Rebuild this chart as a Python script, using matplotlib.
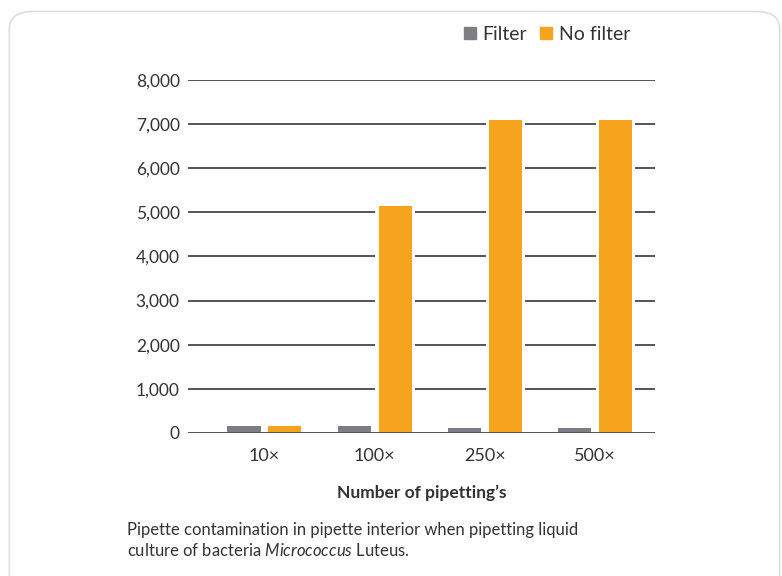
import matplotlib
matplotlib.use("Agg")
import matplotlib.pyplot as plt
import numpy as np
from matplotlib.patches import FancyBboxPatch
from matplotlib.lines import Line2D

categories = ["10×", "100×", "250×", "500×"]
filter_vals = [150, 150, 120, 120]
nofilter_vals = [150, 5150, 7100, 7100]
yticks = [0, 1000, 2000, 3000, 4000, 5000, 6000, 7000, 8000]

GRAY = "#7d7e83"
ORANGE = "#f6a31e"
TEXT = "#333333"

plt.rcParams['font.family'] = ['Lato', 'DejaVu Sans']
plt.rcParams['mathtext.fontset'] = 'custom'
plt.rcParams['mathtext.it'] = 'Lato:italic'
plt.rcParams['mathtext.rm'] = 'Lato'

fig = plt.figure(figsize=(7.82, 5.76), dpi=100)
border = FancyBboxPatch((0.012, -0.05), 0.985, 1.03, boxstyle="round,pad=0,rounding_size=0.03",
                        transform=fig.transFigure, facecolor="none", edgecolor="#dddddd",
                        linewidth=1.2, zorder=-1)
fig.patches.append(border)

ax = fig.add_axes([0.2404, 0.2483, 0.5972, 0.6128])
ax.set_facecolor("none")
x = np.arange(len(categories))
w = 0.30
off = 0.186
gap = 0.06
# white halos that break the gridlines beside the bars
ax.bar(x - off, filter_vals, w + gap, color="white", linewidth=0, zorder=2)
ax.bar(x + off, nofilter_vals, w + gap, color="white", linewidth=0, zorder=2)
ax.bar(x - off, filter_vals, w, color=GRAY, linewidth=0, zorder=3)
ax.bar(x + off, nofilter_vals, w, color=ORANGE, linewidth=0, zorder=3)

for yv in yticks:
    ax.axhline(yv, color="#555555", linewidth=1.4, zorder=1 if yv > 0 else 4)

ax.set_ylim(0, 8000)
ax.set_xlim(-0.694, 3.544)
ax.set_yticks(yticks)
ax.set_yticklabels([f"{v:,}" for v in yticks], fontsize=12.5, color=TEXT)
ax.set_xticks(x)
ax.set_xticklabels(categories, fontsize=13, color=TEXT)
ax.tick_params(axis='both', length=0, pad=6)
ax.tick_params(axis='x', pad=11)
for s in ax.spines.values():
    s.set_visible(False)
ax.set_xlabel("Number of pipetting’s", fontsize=12.5, fontweight="bold", color=TEXT, labelpad=15)

handles = [Line2D([], [], marker='s', linestyle='none', markersize=9, color=GRAY),
           Line2D([], [], marker='s', linestyle='none', markersize=9, color=ORANGE)]
fig.legend(handles, ["Filter", "No filter"], loc="center", bbox_to_anchor=(0.697, 0.94),
           ncol=2, frameon=False, fontsize=14, handletextpad=0.15, columnspacing=0.5,
           handlelength=1.0, labelcolor=TEXT)

fig.text(0.162, 0.03, "Pipette contamination in pipette interior when pipetting liquid\n"
         "culture of bacteria $\\mathit{Micrococcus}$ Luteus.", fontsize=12, color=TEXT,
         ha="left", va="bottom", linespacing=1.25)

fig.savefig("out.png", dpi=100)
